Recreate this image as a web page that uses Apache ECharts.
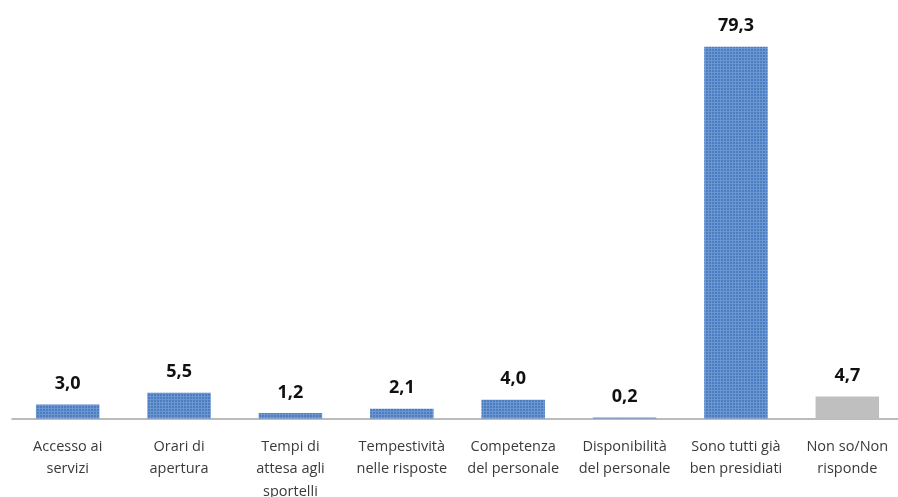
<!DOCTYPE html>
<html>
<head>
<meta charset="utf-8">
<script src="https://cdn.jsdelivr.net/npm/echarts@6/dist/echarts.min.js"></script>
<style>
  html, body { margin: 0; padding: 0; background: #ffffff; }
  #chart { width: 898px; height: 497px; }
</style>
</head>
<body>
<div id="chart"></div>
<script>
// Categories and percentages
const categories = [
  'Accesso ai\nservizi',
  'Orari di\napertura',
  'Tempi di\nattesa agli\nsportelli',
  'Tempestività\nnelle risposte',
  'Competenza\ndel personale',
  'Disponibilità\ndel personale',
  'Sono tutti già\nben presidiati',
  'Non so/Non\nrisponde'
];
const values = [3.0, 5.5, 1.2, 2.1, 4.0, 0.2, 79.3, 4.7];
// Last category ("Non so/Non risponde") is drawn in grey
const greyIndex = 7;

// Small tiled pattern giving the bars their fine grid texture
function makeTexture(base, line) {
  const c = document.createElement('canvas');
  c.width = 3; c.height = 3;
  const g = c.getContext('2d');
  g.fillStyle = base;
  g.fillRect(0, 0, 3, 3);
  g.fillStyle = line;
  g.fillRect(0, 0, 3, 1);
  g.fillRect(0, 0, 1, 3);
  return c;
}
const blueTexture = makeTexture('#4B7DC3', '#6C96D0');

const chart = echarts.init(document.getElementById('chart'), null, { renderer: 'canvas' });

chart.setOption({
  animation: false,
  backgroundColor: '#ffffff',
  // plot area runs a few pixels past the right edge of the canvas;
  // the three-line label may spill below the bottom edge
  grid: {
    left: 12, width: 891, top: 43.5, height: 375,
    containLabel: false,
    outerBoundsMode: 'none'
  },
  xAxis: {
    type: 'category',
    data: categories,
    axisLine: { show: true, lineStyle: { color: '#a6a6a6', width: 1.5 } },
    axisTick: { show: false },
    axisLabel: {
      interval: 0,
      margin: 17,
      color: '#3a3a3a',
      fontFamily: 'Open Sans',
      fontSize: 14.5,
      lineHeight: 22.5
    }
  },
  yAxis: {
    type: 'value',
    min: 0,
    max: 80,
    show: false,
    splitLine: { show: false }
  },
  series: [{
    type: 'bar',
    barWidth: '57%',
    data: values.map((v, i) => ({
      value: v,
      itemStyle: { color: i === greyIndex ? '#BFBFBF' : { image: blueTexture, repeat: 'repeat' } }
    })),
    label: {
      show: true,
      position: 'top',
      distance: 11.5,
      color: '#111111',
      fontFamily: 'Open Sans',
      fontWeight: 'bold',
      fontSize: 18,
      formatter: p => p.value.toFixed(1).replace('.', ',')
    }
  }]
});
</script>
</body>
</html>
